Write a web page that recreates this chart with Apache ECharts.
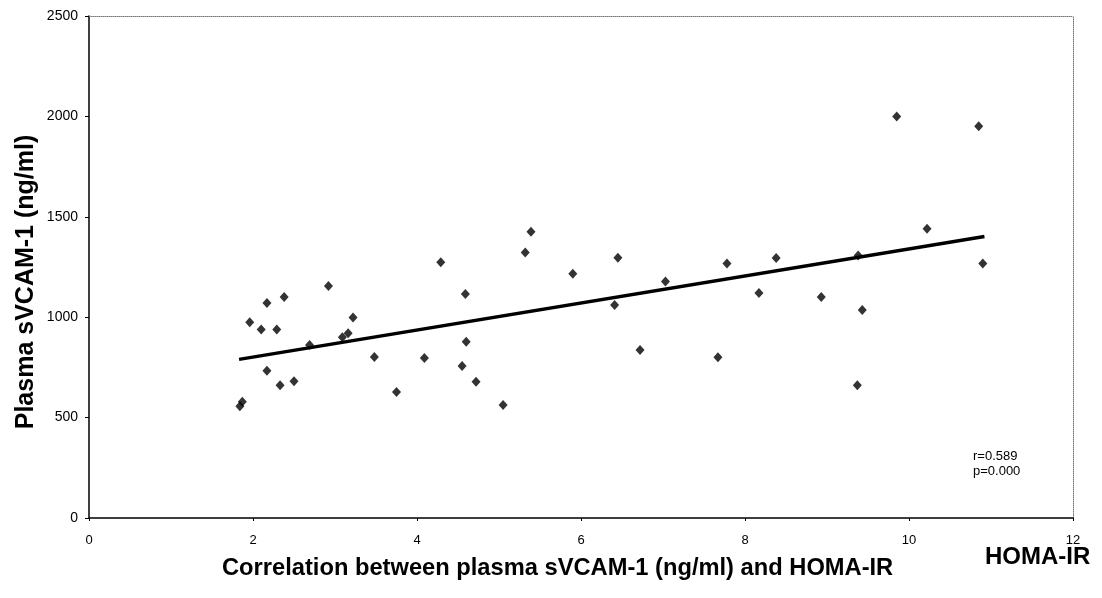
<!DOCTYPE html>
<html>
<head>
<meta charset="utf-8">
<script src="https://cdn.jsdelivr.net/npm/echarts@6/dist/echarts.min.js"></script>
<style>
html,body{margin:0;padding:0;background:#fff;}
#chart{width:1102px;height:598px;}
</style>
</head>
<body>
<div id="chart"></div>
<script>
// HOMA-IR values (x)
const homaIR = [1.84, 1.87, 1.96, 2.10, 2.17, 2.29, 2.38, 2.92, 3.22, 3.09, 3.16, 2.69, 2.17, 2.33, 2.50,
  3.48, 4.09, 3.75, 4.29, 4.59, 5.39, 5.32, 5.90, 6.45, 6.41, 7.03, 4.60, 4.55, 4.72, 5.05,
  6.72, 7.78, 8.38, 8.17, 8.93, 9.38, 9.43, 10.22, 10.90, 7.67, 9.37, 9.85, 10.85];
// Plasma sVCAM-1 values (y, ng/ml)
const sVCAM = [557, 579, 975, 939, 1071, 939, 1101, 1156, 999, 900, 920, 862, 733, 661, 681,
  802, 797, 628, 1274, 1116, 1426, 1322, 1216, 1296, 1061, 1178, 878, 757, 678, 563,
  837, 1268, 1295, 1120, 1101, 1307, 1036, 1440, 1268, 801, 661, 1999, 1951];
// regression line end points
const trendX = [1.83, 10.92];
const trendY = [790, 1402];
const xTicks = [0, 2, 4, 6, 8, 10, 12];
const yTicks = [0, 500, 1000, 1500, 2000, 2500];

const FONT = 'Liberation Sans, Arial, sans-serif';
const chart = echarts.init(document.getElementById('chart'), null, {renderer: 'canvas'});

const points = homaIR.map((x, i) => [x, sVCAM[i]]);
const trend = trendX.map((x, i) => [x, trendY[i]]);

const dotted = {show: true, onZero: false, lineStyle: {color: '#777', width: 1, type: 'dotted'}};

chart.setOption({
  backgroundColor: '#fff',
  animation: false,
  grid: {left: 89, right: 29, top: 16, bottom: 80, show: false},
  xAxis: [{
    type: 'value', min: xTicks[0], max: xTicks[xTicks.length - 1], interval: xTicks[1] - xTicks[0],
    axisLine: {show: true, onZero: false, lineStyle: {color: '#000', width: 1.5}},
    axisTick: {show: true, length: 3, lineStyle: {color: '#000'}},
    axisLabel: {color: '#000', fontSize: 13, fontFamily: FONT, margin: 16, formatter: v => String(v)},
    splitLine: {show: false}
  }, {
    type: 'value', position: 'top', min: xTicks[0], max: xTicks[xTicks.length - 1],
    axisLine: dotted, axisTick: {show: false}, axisLabel: {show: false}, splitLine: {show: false}
  }],
  yAxis: [{
    type: 'value', min: yTicks[0], max: yTicks[yTicks.length - 1], interval: yTicks[1] - yTicks[0],
    axisLine: {show: true, onZero: false, lineStyle: {color: '#000', width: 1.5}},
    axisTick: {show: true, length: 4, lineStyle: {color: '#000'}},
    axisLabel: {color: '#000', fontSize: 14, fontFamily: FONT, margin: 11, formatter: v => String(v)},
    splitLine: {show: false}
  }, {
    type: 'value', position: 'right', min: yTicks[0], max: yTicks[yTicks.length - 1],
    axisLine: dotted, axisTick: {show: false}, axisLabel: {show: false}, splitLine: {show: false}
  }],
  series: [{
    type: 'line', data: trend, symbol: 'none', xAxisIndex: 0, yAxisIndex: 0,
    lineStyle: {color: '#000', width: 3.5}, z: 2
  }, {
    type: 'scatter', data: points, symbol: 'diamond', symbolSize: [9, 10],
    xAxisIndex: 0, yAxisIndex: 0,
    itemStyle: {color: '#000'}, z: 3
  }],
  graphic: [{
    type: 'text', left: 973, top: 450,
    style: {text: 'r=0.589', fill: '#000', font: '13px ' + FONT}
  }, {
    type: 'text', left: 973, top: 465,
    style: {text: 'p=0.000', fill: '#000', font: '13px ' + FONT}
  }, {
    type: 'text', left: 222, top: 556,
    style: {text: 'Correlation between plasma sVCAM-1 (ng/ml) and HOMA-IR', fill: '#000', font: 'bold 23.7px ' + FONT}
  }, {
    type: 'text', left: 985, top: 545,
    style: {text: 'HOMA-IR', fill: '#000', font: 'bold 24px ' + FONT}
  }, {
    type: 'text', x: 26, y: 282, rotation: Math.PI / 2,
    style: {text: 'Plasma sVCAM-1 (ng/ml)', fill: '#000', font: 'bold 25px ' + FONT, align: 'center', verticalAlign: 'middle'}
  }]
});
</script>
</body>
